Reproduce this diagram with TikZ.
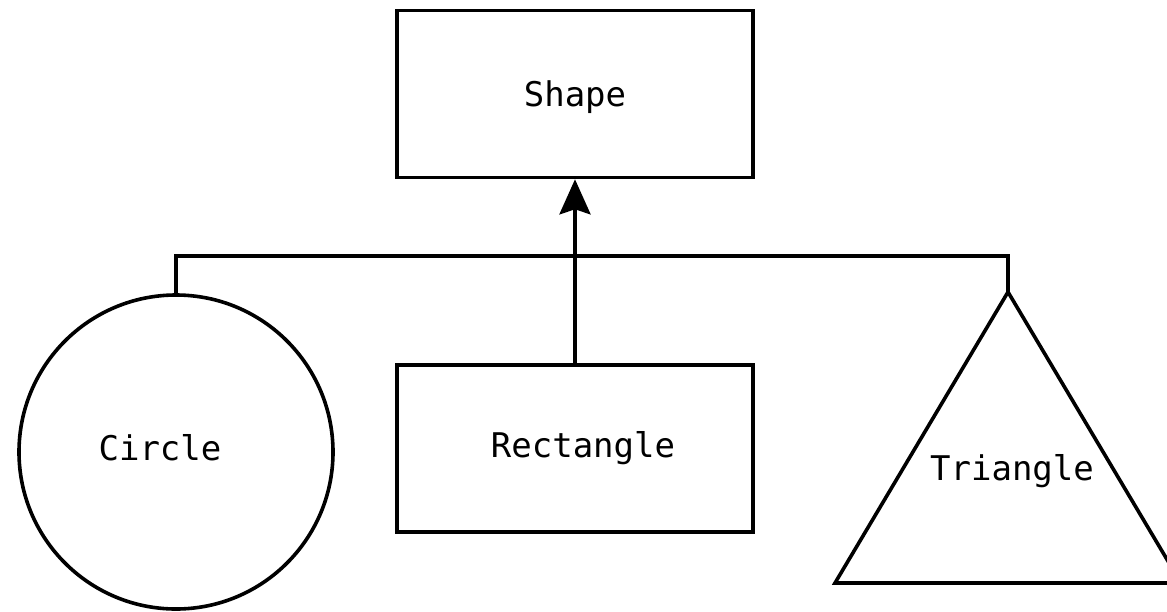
\documentclass[tikz,border=0pt]{standalone}
\usepackage{fontspec}
\setmonofont{DejaVu Sans Mono}
\usetikzlibrary{arrows.meta}
\begin{document}
\begin{tikzpicture}[x=1pt,y=-1pt,
  lbl/.style={font=\ttfamily\fontsize{34}{40}\selectfont, text height=25pt, text depth=0pt, inner sep=0pt},
  boxnode/.style={draw, line width=3.6pt, minimum width=356pt, minimum height=167pt, lbl},
  circnode/.style={draw, circle, line width=3.6pt, minimum size=314pt, lbl},
  conn/.style={line width=3.6pt},
  tip/.style={-{Stealth[length=35pt,width=31pt,inset=5pt]}}]
\useasboundingbox (0,0) rectangle (1167,611);
\clip (0,0) rectangle (1167,611);
\fill[white] (0,0) rectangle (1167,611);
\node[boxnode] (shape) at (575,94) {Shape};
\node[boxnode] (rect) at (575,448.5) {};
\node[lbl] (rectlbl) at (583,445) {Rectangle};
\node[circnode] (circ) at (176,452) {};
\node[lbl] (circlbl) at (160,447.5) {Circle};
\coordinate (tapex) at (1008,292);
\coordinate (tbl) at (835,583);
\coordinate (tbr) at (1181,583);
\draw[conn, line join=miter] (tapex) -- (tbl) -- (tbr) -- cycle;
\node[lbl] (trilbl) at (1012,467.5) {Triangle};
\coordinate (busL) at (176,256);
\coordinate (busR) at (1008,256);
\draw[conn] (circ.north) -- (busL) -- (busR) -- (tapex);
\draw[conn, tip] (rect.north) -- (shape.south);
\end{tikzpicture}
\end{document}
